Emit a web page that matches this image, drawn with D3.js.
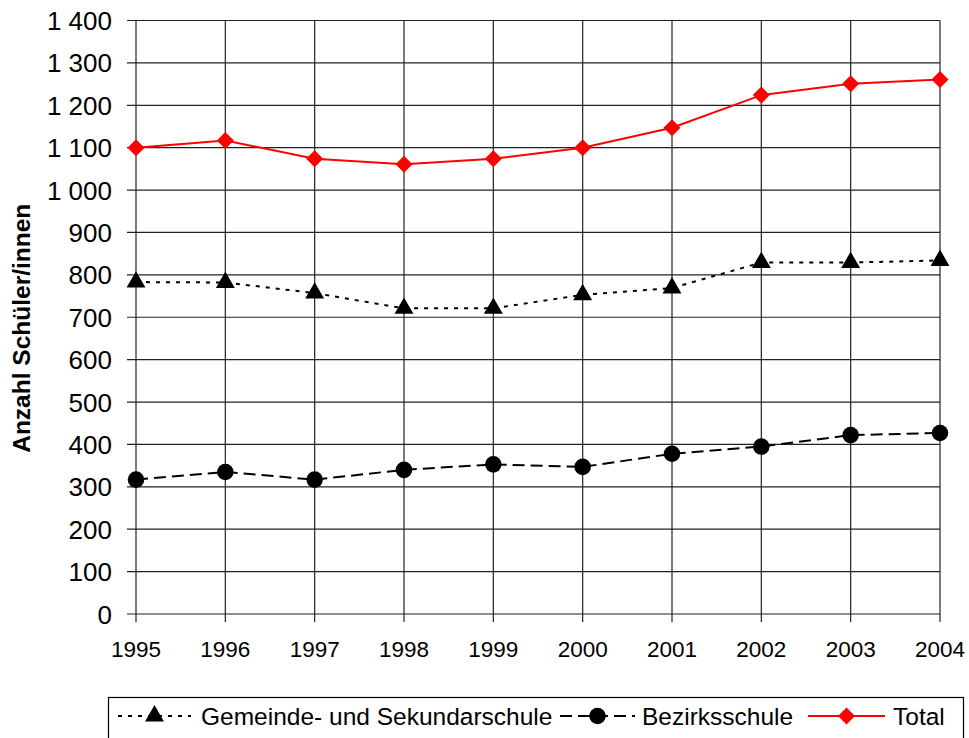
<!DOCTYPE html>
<html>
<head>
<meta charset="utf-8">
<script src="https://cdn.jsdelivr.net/npm/d3@7"></script>
<style>
  html, body { margin: 0; padding: 0; background: #fff; }
  svg { display: block; font-family: Arial, "Liberation Sans", sans-serif; }
</style>
</head>
<body>
<svg id="chart" width="969" height="738"></svg>
<script>
// Schülerzahlen nach Schultyp, 1995–2004
const years = [1995, 1996, 1997, 1998, 1999, 2000, 2001, 2002, 2003, 2004];
const gemeindeSek = [783, 782, 757, 721, 721, 753, 769, 829, 829, 834];
const bezirk = [317, 335, 317, 340, 353, 347, 378, 395, 422, 427];
const total = [1100, 1117, 1074, 1061, 1074, 1100, 1147, 1224, 1251, 1261];
const yTicks = [0, 100, 200, 300, 400, 500, 600, 700, 800, 900, 1000, 1100, 1200, 1300, 1400];
const seriesNames = ["Gemeinde- und Sekundarschule", "Bezirksschule", "Total"];

const svg = d3.select("#chart");
const plot = { left: 136, right: 940, top: 20.5, bottom: 614 };

const x = d3.scalePoint().domain(years).range([plot.left, plot.right]);
const y = d3.scaleLinear().domain([0, 1400]).range([plot.bottom, plot.top]);

const grid = svg.append("g");
// horizontal grid lines with left tick stubs
grid.selectAll("line.h").data(yTicks).join("line")
  .attr("x1", plot.left - 9).attr("x2", plot.right)
  .attr("y1", d => y(d)).attr("y2", d => y(d))
  .attr("stroke", "#222").attr("stroke-width", 1.2);
// vertical grid lines with bottom tick stubs
grid.selectAll("line.v").data(years).join("line")
  .attr("x1", d => x(d)).attr("x2", d => x(d))
  .attr("y1", plot.top).attr("y2", plot.bottom + 8)
  .attr("stroke", "#222").attr("stroke-width", 1.2);

// axis labels (thousands separated by a space)
const fmtY = d => d >= 1000 ? String(d).slice(0, 1) + "\u00a0" + String(d).slice(1) : String(d);
svg.append("g").selectAll("text").data(yTicks).join("text")
  .attr("x", 112).attr("y", d => y(d) + 9.5)
  .attr("text-anchor", "end").attr("font-size", 26).attr("fill", "#000")
  .text(fmtY);

svg.append("g").selectAll("text").data(years).join("text")
  .attr("x", d => x(d)).attr("y", 657)
  .attr("text-anchor", "middle").attr("font-size", 22.5).attr("fill", "#000")
  .text(d => d);

svg.append("text")
  .attr("transform", `translate(30, ${(plot.top + plot.bottom) / 2 + 11}) rotate(-90)`)
  .attr("text-anchor", "middle").attr("font-size", 24.5).attr("font-weight", "bold")
  .text("Anzahl Schüler/innen");

const line = d3.line().x((d, i) => x(years[i])).y(d => y(d));

// square diamond marker
const diamond = {
  draw(ctx, size) {
    const r = Math.sqrt(size / 2);
    ctx.moveTo(0, -r); ctx.lineTo(r, 0); ctx.lineTo(0, r); ctx.lineTo(-r, 0); ctx.closePath();
  }
};

const styles = [
  { data: gemeindeSek, color: "#000", dash: "4,6", marker: d3.symbolTriangle, size: 155 },
  { data: bezirk, color: "#000", dash: "12,6", marker: d3.symbolCircle, size: 215 },
  { data: total, color: "#ff0000", dash: null, marker: diamond, size: 145 }
];

styles.forEach(s => {
  svg.append("path").datum(s.data)
    .attr("d", line).attr("fill", "none")
    .attr("stroke", s.color).attr("stroke-width", 2)
    .attr("stroke-dasharray", s.dash);
  svg.append("g").selectAll("path").data(s.data).join("path")
    .attr("transform", (d, i) => `translate(${x(years[i])},${y(d)})`)
    .attr("d", d3.symbol().type(s.marker).size(s.size))
    .attr("fill", s.color);
});

// legend
const lg = svg.append("g");
lg.append("rect").attr("x", 108.5).attr("y", 697.5).attr("width", 855).attr("height", 80)
  .attr("fill", "#fff").attr("stroke", "#000").attr("stroke-width", 1.2);
const legendItems = [
  { x0: 118, x1: 191, tx: 201 },
  { x0: 560, x1: 635, tx: 642 },
  { x0: 808, x1: 885, tx: 893 }
];
const ly = 716;
legendItems.forEach((it, i) => {
  const s = styles[i];
  lg.append("line").attr("x1", it.x0).attr("x2", it.x1).attr("y1", ly).attr("y2", ly)
    .attr("stroke", s.color).attr("stroke-width", 2).attr("stroke-dasharray", s.dash);
  lg.append("path").attr("transform", `translate(${(it.x0 + it.x1) / 2},${ly})`)
    .attr("d", d3.symbol().type(s.marker).size(s.size)).attr("fill", s.color);
  lg.append("text").attr("x", it.tx).attr("y", ly + 8.5).attr("font-size", 24.5)
    .text(seriesNames[i]);
});
</script>
</body>
</html>
